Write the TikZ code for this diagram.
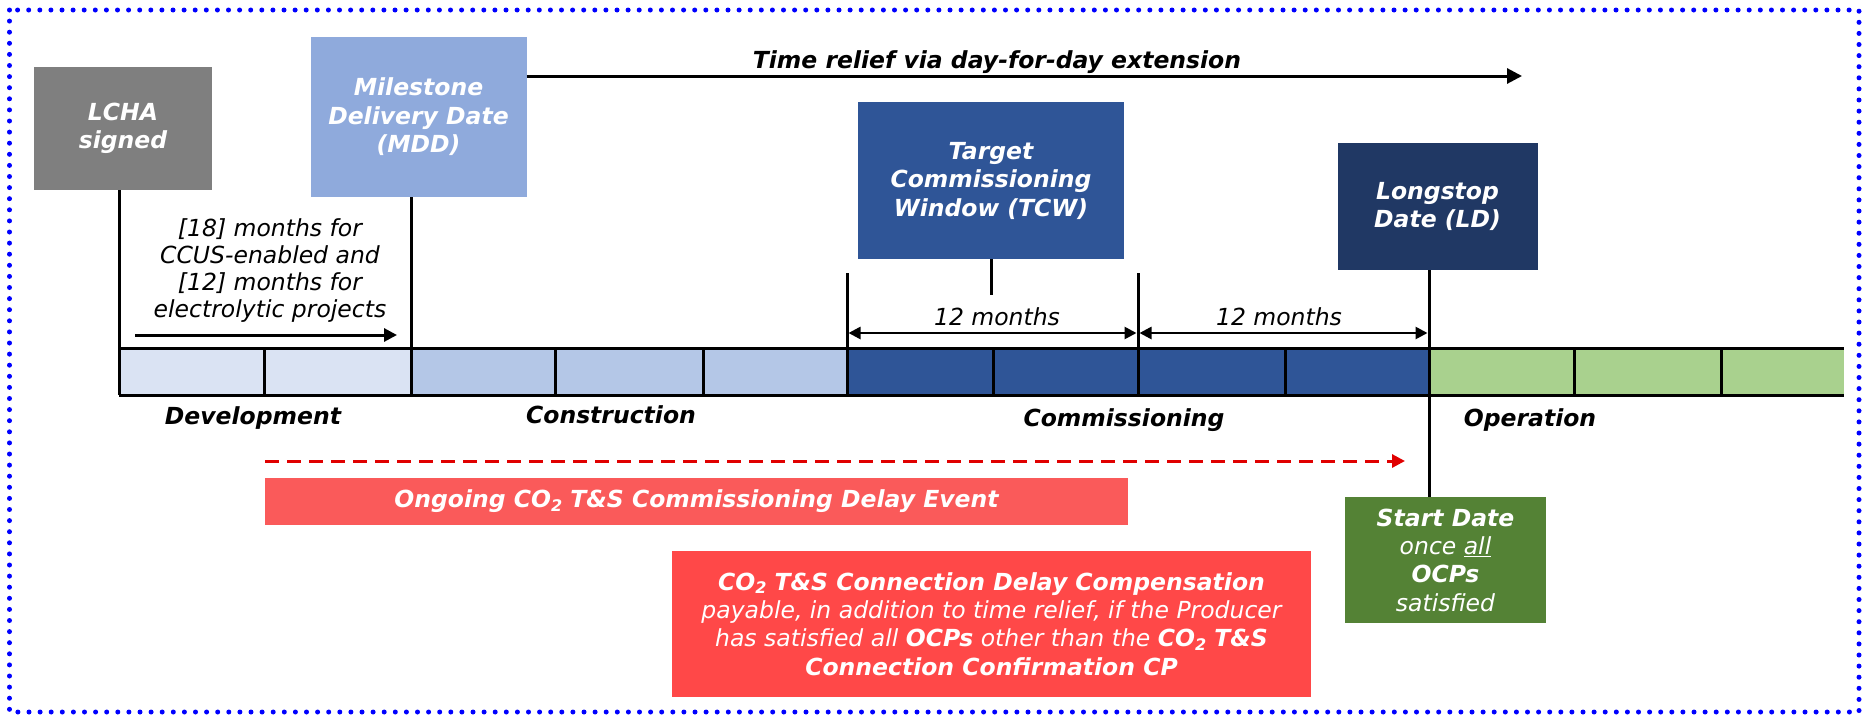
\documentclass[tikz,border=0pt]{standalone}
\usepackage{fontspec}
\setmainfont{DejaVu Sans}
\usetikzlibrary{arrows.meta}
\definecolor{lchac}{HTML}{7F7F7F}
\definecolor{mddc}{HTML}{8FAADC}
\definecolor{tcwc}{HTML}{2F5597}
\definecolor{ldc}{HTML}{203864}
\definecolor{sdc}{HTML}{548235}
\definecolor{devc}{HTML}{DAE3F3}
\definecolor{conc}{HTML}{B4C7E7}
\definecolor{comc}{HTML}{2F5597}
\definecolor{opc}{HTML}{A9D18E}
\definecolor{ongc}{HTML}{FA5A5A}
\definecolor{compc}{HTML}{FF4848}
\definecolor{delayred}{HTML}{E00000}
\definecolor{framec}{HTML}{0000FF}
\newcommand{\cosub}{CO\raisebox{-0.28ex}{\fontsize{16}{16}\selectfont 2}}
\begin{document}
\begin{tikzpicture}[x=1pt,y=-1pt,
  tbox/.style={font=\fontsize{23.5}{28.5}\selectfont\bfseries\itshape, inner sep=0pt, text=white, align=center, draw=none},
  lbl/.style={font=\fontsize{23.5}{28.3}\selectfont\bfseries\itshape, text=black, inner sep=0pt},
  note/.style={font=\fontsize{23.5}{27}\selectfont\itshape, text=black, inner sep=0pt, align=center},
  notel/.style={font=\fontsize{23.5}{27}\selectfont\itshape, text=black, inner sep=0pt},
  conn/.style={draw=black, line width=3pt},
  barline/.style={draw=black, line width=3pt},
  tip/.style={-{Triangle[length=#1,width=#1]}},
  dtip/.style={{Triangle[length=#1,width=#1]}-{Triangle[length=#1,width=#1]}},
]
\useasboundingbox (0,0) rectangle (1863,715);

% frame
\draw[framec, line width=5pt, line cap=round, dash pattern=on 0pt off 11.1pt] (9.5,10) rectangle (1859,712);

% timeline bar
\fill[devc] (119,348) rectangle (411,395);
\fill[conc] (411,348) rectangle (847,395);
\fill[comc] (847,348) rectangle (1429,395);
\fill[opc] (1429,348) rectangle (1844,395);
\draw[barline] (119,348) -- (1844,348) (119,395) -- (1844,395);
\foreach \x [count=\i from 0] in {119,264,411,555,703,847,993,1138,1285,1429,1574,1721}{
  \coordinate (b\i) at (\x,348);
  \draw[barline] (\x,348) -- (\x,395);
}

% boxes
\node[tbox, fill=lchac, minimum width=178pt, minimum height=123pt] (lcha) at (123,128.5) {LCHA\\signed};
\node[tbox, fill=mddc, minimum width=216pt, minimum height=160pt] (mdd) at (418.5,117) {Milestone\\Delivery Date\\(MDD)};
\node[tbox, fill=tcwc, minimum width=266pt, minimum height=157pt] (tcw) at (991,180.5) {Target\\Commissioning\\Window (TCW)};
\node[tbox, fill=ldc, minimum width=200pt, minimum height=127pt] (ld) at (1437.5,206.5) {Longstop\\Date (LD)};
\node[tbox, fill=sdc, minimum width=201pt, minimum height=126pt, font=\fontsize{23.5}{28.3}\selectfont\itshape] (sd) at (1445.5,560) {\textbf{Start Date}\\once \underline{all}\\\textbf{OCPs}\\satisfied};
\node[tbox, fill=ongc, minimum width=863pt, minimum height=47pt] (ong) at (696.5,501.5) {Ongoing \cosub{} T\&S Commissioning Delay Event};
\node[tbox, fill=compc, minimum width=639pt, minimum height=146pt, font=\fontsize{23.5}{28.3}\selectfont\itshape] (comp) at (991.5,624) {\textbf{\cosub{} T\&S Connection Delay Compensation}\\payable, in addition to time relief, if the Producer\\has satisfied all \textbf{OCPs} other than the \textbf{\cosub{} T\&S}\\\textbf{Connection Confirmation CP}};

% connectors to the bar
\draw[conn] (lcha.south -| b0) -- (b0);
\draw[conn] (mdd.south -| b2) -- (b2);
\coordinate (tcwtick) at (991,295);
\draw[conn] (tcw.south) -- (tcwtick);
\coordinate (tcwL) at (847,273);
\coordinate (tcwR) at (1138,273);
\draw[conn] (tcwL) -- (b5);
\draw[conn] (tcwR) -- (b7);
\draw[conn] (ld.south -| b9) -- (sd.north -| b9);

% time relief arrow
\coordinate (trend) at (1522,76);
\draw[conn, tip=15pt] (mdd.east |- trend) -- (trend);
\node[lbl, anchor=base] (trl) at (997,68.5) {Time relief via day-for-day extension};

% development period
\node[note] (dev18) at (270,271) {[18] months for\\CCUS-enabled and\\{}[12] months for\\electrolytic projects};
\coordinate (a18s) at (135,335);
\coordinate (a18e) at (397,335);
\draw[conn, tip=13pt] (a18s) -- (a18e);

% 12 months arrows
\coordinate (m1) at (847,333);
\coordinate (m2) at (1138,333);
\coordinate (m3) at (1429,333);
\draw[conn, line width=2.6pt, dtip=12pt, shorten <=1.5pt, shorten >=1.5pt] (m1) -- (m2);
\draw[conn, line width=2.6pt, dtip=12pt, shorten <=1.5pt, shorten >=1.5pt] (m2) -- (m3);
\node[notel, anchor=base] (tw1) at (997,325) {12 months};
\node[notel, anchor=base] (tw2) at (1279,325) {12 months};

% phase labels
\node[lbl, anchor=base] (pdev) at (253,424) {Development};
\node[lbl, anchor=base] (pcon) at (611,423) {Construction};
\node[lbl, anchor=base] (pcom) at (1124,426) {Commissioning};
\node[lbl, anchor=base] (pop) at (1530,426) {Operation};

% delay dashed arrow
\coordinate (ds) at (265,461);
\coordinate (de) at (1405,461);
\draw[delayred, line width=3pt, dash pattern=on 14pt off 8pt, tip=13pt] (ds) -- (de);
\end{tikzpicture}
\end{document}
